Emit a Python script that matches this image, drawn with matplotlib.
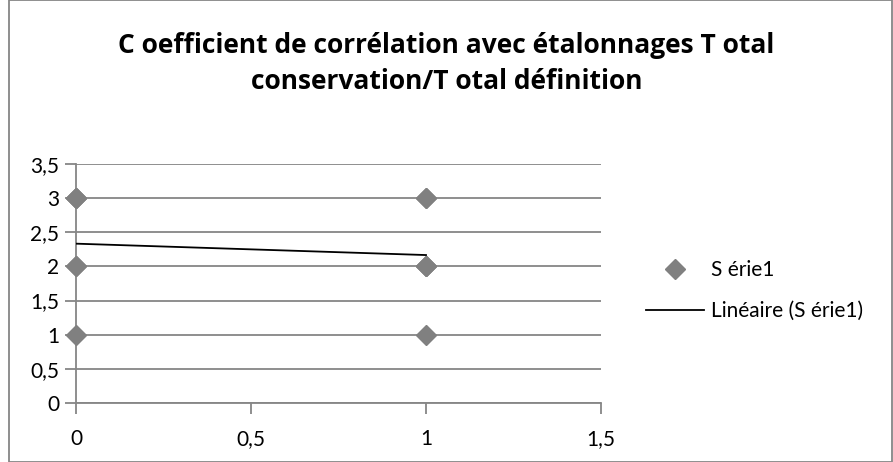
import matplotlib.pyplot as plt
import numpy as np

plt.rcParams['font.family'] = ['Lato', 'DejaVu Sans']

x_vals = [0, 0, 0, 0, 0, 0, 1, 1, 1, 1, 1, 1]
y_vals = [1, 2, 3, 3, 2, 3, 1, 2, 3, 2, 3, 2]
x_ticks = [0, 0.5, 1, 1.5]
y_ticks = [0, 0.5, 1, 1.5, 2, 2.5, 3, 3.5]

fig = plt.figure(figsize=(8.93, 4.62), dpi=100)
ax = fig.add_axes([76/893, 59/462, 525/893, 239/462])

grey = '#868686'
slope, inter = np.polyfit(x_vals, y_vals, 1)
xs = np.array([min(x_vals), max(x_vals)])

ax.plot(x_vals, y_vals, linestyle='none', marker='D', color='#808080', markersize=10.5,
        label='S érie1', zorder=3, clip_on=False)
ax.plot(xs, inter + slope * xs, color='black', linewidth=1.3, label='Linéaire (S érie1)', zorder=4)

ax.set_xlim(0, 1.5)
ax.set_ylim(0, 3.5)
ax.set_xticks(x_ticks)
ax.set_yticks(y_ticks)
fmt = lambda v: ('%g' % v).replace('.', ',')
ax.set_xticklabels([fmt(v) for v in x_ticks])
ax.set_yticklabels([fmt(v) for v in y_ticks])
ax.yaxis.grid(True, color=grey, linewidth=1.3)
ax.set_axisbelow(True)
for s in ['top', 'right']:
    ax.spines[s].set_visible(False)
for s in ['left', 'bottom']:
    ax.spines[s].set_color(grey)
    ax.spines[s].set_linewidth(1.3)
ax.tick_params(axis='both', colors=grey, length=8, width=1.3, labelsize=15, labelcolor='black')
ax.tick_params(axis='x', pad=11)
ax.tick_params(axis='y', pad=4)

ax.legend(loc='center left', bbox_to_anchor=(1.05, 0.47), frameon=False, fontsize=15,
          labelspacing=1.0, handlelength=2.8, handletextpad=0.3)

fig.text(0.5, 0.862, 'C oefficient de corrélation avec étalonnages T otal\nconservation/T otal définition',
         ha='center', va='center', fontsize=19, fontweight='bold', linespacing=1.45,
         family=['Open Sans', 'DejaVu Sans'])

fig.add_artist(plt.Rectangle((9/893, 0), 1 - 10/893, 1, fill=False, edgecolor=grey, linewidth=1.3,
                             transform=fig.transFigure))

fig.savefig('out.png', dpi=100)
